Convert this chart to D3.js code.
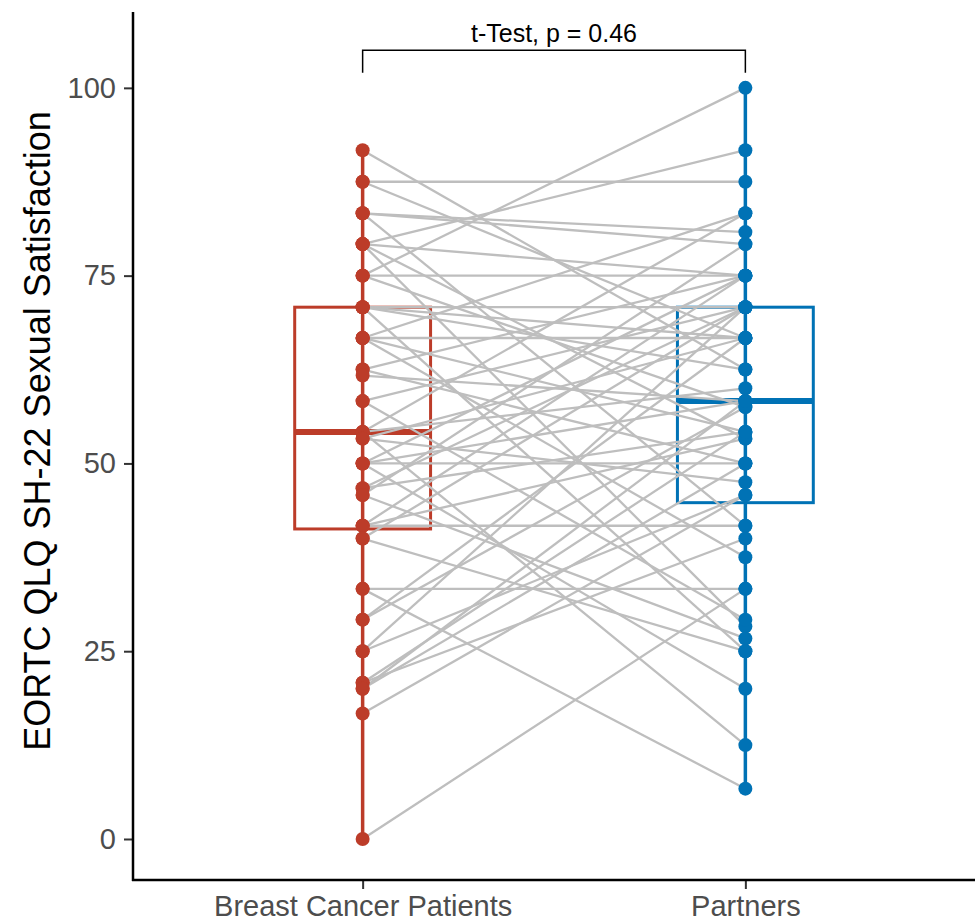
<!DOCTYPE html>
<html>
<head>
<meta charset="utf-8">
<script src="https://cdn.jsdelivr.net/npm/d3@7"></script>
<style>
  body { margin: 0; background: #fff; }
  svg text { font-family: "Liberation Sans", Arial, sans-serif; }
</style>
</head>
<body>
<div id="chart"></div>
<script>
var groups = ["Breast Cancer Patients", "Partners"];
var groupColors = ["#BC3C29", "#0072B5"];

// paired scores, patients[i] belongs with partners[i]
var patients = [91.7, 87.5, 87.5, 83.3, 83.3, 83.3, 79.2, 79.2, 79.2, 79.2,
    75, 75, 75, 70.8, 70.8, 70.8, 70.8, 66.7, 66.7, 66.7,
    66.7, 62.5, 62.5, 61.7, 58.3, 58.3, 54.2, 54.2, 54.2, 53.3,
    53.3, 50, 50, 50, 50, 46.7, 46.7, 45.8, 45.8, 41.7,
    41.7, 41.7, 40, 40, 33.3, 33.3, 29.2, 29.2, 25, 25,
    20.8, 20.8, 20, 20, 16.7, 0];
var partners = [62.5, 87.5, 66.7, 80.8, 79.2, 41.7, 91.7, 75, 53.3, 28.3,
    100, 75, 57.5, 70.8, 66.7, 62.5, 25, 83.3, 66.7, 54.2,
    37.5, 75, 50, 58.3, 70.8, 29.2, 12.5, 83.3, 60, 66.7,
    47.5, 75, 58.3, 20, 50, 70.8, 54.2, 79.2, 26.7, 75,
    53.3, 41.7, 70.8, 25, 33.3, 6.7, 66.7, 57.5, 70.8, 45.8,
    54.2, 40, 58.3, 50, 45.8, 33.3];

var yTicks = [0, 25, 50, 75, 100];
var testLabel = "t-Test, p = 0.46";
var yTitle = "EORTC QLQ SH-22 Sexual Satisfaction";

var width = 979, height = 921;
var panel = { left: 133, right: 975, top: 12, bottom: 880 };

var svg = d3.select("#chart").append("svg")
    .attr("width", width)
    .attr("height", height);

var x = d3.scalePoint()
    .domain(groups)
    .range([panel.left, panel.right])
    .padding(0.6);

var y = d3.scaleLinear()
    .domain([-5.46, 110.1])
    .range([panel.bottom, panel.top]);

function boxStats(values) {
    var s = values.slice().sort(d3.ascending);
    var q1 = d3.quantile(s, 0.25);
    var med = d3.quantile(s, 0.5);
    var q3 = d3.quantile(s, 0.75);
    var iqr = q3 - q1;
    var lo = d3.min(s.filter(function (v) { return v >= q1 - 1.5 * iqr; }));
    var hi = d3.max(s.filter(function (v) { return v <= q3 + 1.5 * iqr; }));
    return { q1: q1, med: med, q3: q3, lo: lo, hi: hi };
}

var series = [patients, partners];
var boxWidth = x.step() * 0.355;

// boxplots go underneath everything
var boxes = svg.append("g");
series.forEach(function (values, i) {
    var st = boxStats(values);
    var cx = x(groups[i]);
    var g = boxes.append("g").attr("stroke", groupColors[i]).attr("fill", "none");

    g.append("line")
        .attr("x1", cx).attr("x2", cx)
        .attr("y1", y(st.lo)).attr("y2", y(st.hi))
        .attr("stroke-width", 3.5);

    g.append("rect")
        .attr("x", cx - boxWidth / 2)
        .attr("y", y(st.q3))
        .attr("width", boxWidth)
        .attr("height", y(st.q1) - y(st.q3))
        .attr("fill", "#fff")
        .attr("stroke-width", 3);

    g.append("line")
        .attr("x1", cx - boxWidth / 2).attr("x2", cx + boxWidth / 2)
        .attr("y1", y(st.med)).attr("y2", y(st.med))
        .attr("stroke-width", 6);

    // whisker again on top of the white box fill
    g.append("line")
        .attr("x1", cx).attr("x2", cx)
        .attr("y1", y(st.q3)).attr("y2", y(st.q1))
        .attr("stroke-width", 3.5);
});

// paired lines
var pairs = patients.map(function (p, i) { return [p, partners[i]]; });
svg.append("g")
    .selectAll("line")
    .data(pairs)
    .enter().append("line")
    .attr("x1", x(groups[0]))
    .attr("x2", x(groups[1]))
    .attr("y1", function (d) { return y(d[0]); })
    .attr("y2", function (d) { return y(d[1]); })
    .attr("stroke", "#BEBEBE")
    .attr("stroke-width", 2.3);

// points
series.forEach(function (values, i) {
    svg.append("g")
        .selectAll("circle")
        .data(values)
        .enter().append("circle")
        .attr("cx", x(groups[i]))
        .attr("cy", function (d) { return y(d); })
        .attr("r", 7)
        .attr("fill", groupColors[i]);
});

// axes
var yAxis = svg.append("g")
    .attr("transform", "translate(" + panel.left + ",0)")
    .call(d3.axisLeft(y).tickValues(yTicks).tickSize(9).tickPadding(8));
var xAxis = svg.append("g")
    .attr("transform", "translate(0," + panel.bottom + ")")
    .call(d3.axisBottom(x).tickSize(9).tickPadding(6));

[yAxis, xAxis].forEach(function (ax) {
    ax.select(".domain").remove();
    ax.selectAll(".tick line").attr("stroke", "#333").attr("stroke-width", 2);
    ax.selectAll(".tick text")
        .attr("fill", "#4D4D4D")
        .style("font-size", "29px");
});

svg.append("line")
    .attr("x1", panel.left).attr("x2", panel.left)
    .attr("y1", panel.top).attr("y2", panel.bottom + 1)
    .attr("stroke", "#000").attr("stroke-width", 2.5);
svg.append("line")
    .attr("x1", panel.left - 1).attr("x2", panel.right)
    .attr("y1", panel.bottom).attr("y2", panel.bottom)
    .attr("stroke", "#000").attr("stroke-width", 2.5);

// y title
svg.append("text")
    .attr("transform", "translate(50,431) rotate(-90)")
    .attr("text-anchor", "middle")
    .style("font-size", "36px")
    .attr("fill", "#000")
    .text(yTitle);

// significance bracket
var bracketY = y(105.0), bracketDrop = y(102.0);
svg.append("path")
    .attr("d", d3.line()([
        [x(groups[0]), bracketDrop], [x(groups[0]), bracketY],
        [x(groups[1]), bracketY], [x(groups[1]), bracketDrop]
    ]))
    .attr("fill", "none")
    .attr("stroke", "#000")
    .attr("stroke-width", 1.5);

svg.append("text")
    .attr("x", (x(groups[0]) + x(groups[1])) / 2)
    .attr("y", bracketY - 8)
    .attr("text-anchor", "middle")
    .style("font-size", "25px")
    .attr("fill", "#000")
    .text(testLabel);
</script>
</body>
</html>
